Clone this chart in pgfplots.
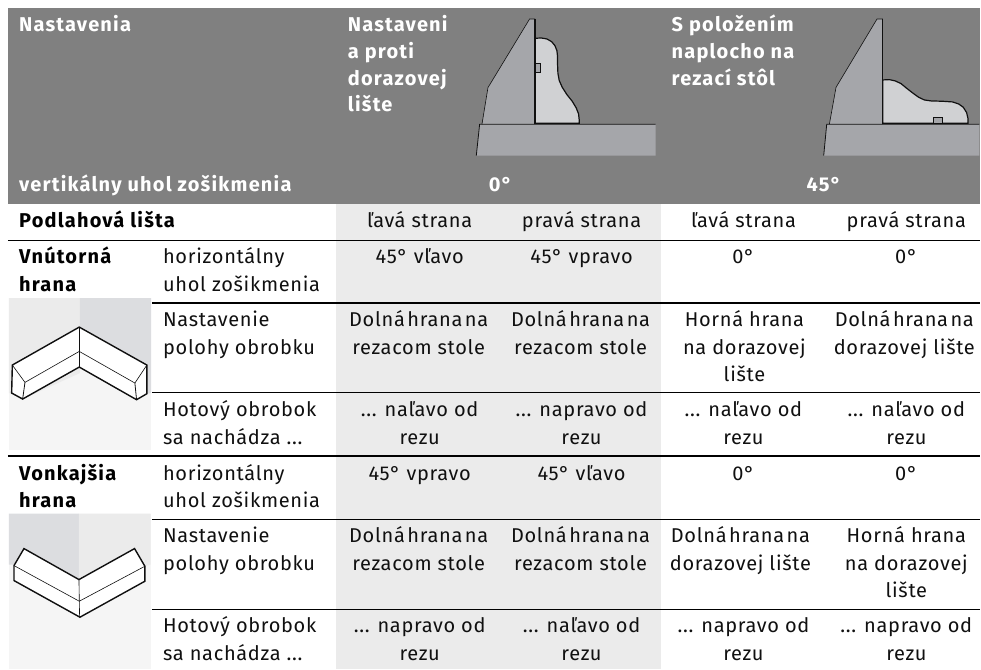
\documentclass[border=0pt]{standalone}
\usepackage{pgfplots}
\pgfplotsset{compat=1.18}
\usepackage{fontspec}
\setmainfont{Fira Sans}[LetterSpace=3.5,BoldFeatures={LetterSpace=6}]
\definecolor{hdr}{HTML}{808080}
\definecolor{col}{HTML}{EBEBEB}
\definecolor{steel}{HTML}{A5A6AA}
\definecolor{piece}{HTML}{D0D1D3}
\definecolor{wallL}{HTML}{EBEBEB}
\definecolor{wallD}{HTML}{DCDDE0}
\definecolor{floorc}{HTML}{F5F5F5}
\definecolor{ink}{HTML}{101010}
\newcommand\hdrfont{\fontsize{20}{22}\selectfont}
\newcommand\TL[3]{\node[anchor=base west,inner sep=0pt,text=ink,font=\hdrfont] at (axis cs:#1,#2) {#3};}
\newcommand\TC[3]{\node[anchor=base,inner sep=0pt,text=ink,font=\hdrfont] at (axis cs:#1,#2) {#3};}
\newcommand\HL[3]{\node[anchor=base west,inner sep=0pt,text=white,font=\hdrfont\bfseries] at (axis cs:#1,#2) {#3};}
\newcommand\BL[3]{\node[anchor=base west,inner sep=0pt,text=black,font=\hdrfont\bfseries] at (axis cs:#1,#2) {#3};}
\newcommand\Doln{Doln\'a\kern-3.5pt\ hrana\kern-3.5pt\ na}
\begin{document}
\begin{tikzpicture}
\begin{axis}[
  hide axis, scale only axis, width=981pt, height=670pt,
  xmin=0, xmax=981, ymin=0, ymax=670, y dir=reverse,
  clip=false, no marks,
  every axis plot/.append style={line join=miter},
]
% page background
\addplot[fill=white,draw=none] coordinates {(0,0)(981,0)(981,670)(0,670)} --cycle;
% header and shaded column
\addplot[fill=hdr,draw=none] coordinates {(8,8)(981,8)(981,204)(8,204)} --cycle;
\addplot[fill=col,draw=none] coordinates {(336,204)(661,204)(661,669)(336,669)} --cycle;
% rules
\addplot[black,line width=1.5pt] coordinates {(8,240.5)(981,240.5)};
\addplot[black,line width=1.5pt] coordinates {(152,303)(981,303)};
\addplot[black,line width=1.5pt] coordinates {(152,393)(981,393)};
\addplot[black,line width=1.5pt] coordinates {(8,456.5)(981,456.5)};
\addplot[black,line width=1.5pt] coordinates {(152,520)(981,520)};
\addplot[black,line width=1.5pt] coordinates {(152,610)(981,610)};
% left profile
\addplot[fill=steel,draw=none] table[x expr=\thisrowno{0}/3+470,y expr=\thisrowno{1}/3+10] {
30 343
558 343
558 437
20 437
};
\addplot[fill=steel,draw=none] table[x expr=\thisrowno{0}/3+470,y expr=\thisrowno{1}/3+10] {
37 343
55 233
180 27
196 27
196 343
};
\addplot[fill=piece,draw=ink,line width=1.2pt] table[x expr=\thisrowno{0}/3+470,y expr=\thisrowno{1}/3+10] {
196 85
215 84
232 87
246 95
256 107
262 122
264 140
264 165
265 190
269 212
278 232
292 254
308 274
320 294
327 312
329 330
329 340
196 340
} --cycle;
\addplot[fill=steel,draw=ink,line width=0.9pt] table[x expr=\thisrowno{0}/3+470,y expr=\thisrowno{1}/3+10] {
196 160
214 160
214 188
196 188
} --cycle;
\addplot[ink,line width=0.6pt] table[x expr=\thisrowno{0}/3+470,y expr=\thisrowno{1}/3+10] {
37 343
55 233
180 27
196 27
196 343
};
\addplot[ink,line width=1.2pt] table[x expr=\thisrowno{0}/3+470,y expr=\thisrowno{1}/3+10] {
196 27
196 343
};
\addplot[ink,line width=0.8pt] table[x expr=\thisrowno{0}/3+470,y expr=\thisrowno{1}/3+10] {
20 437
30 343
558 343
};
% right profile
\addplot[fill=steel,draw=none] table[x expr=\thisrowno{0}/3+810,y expr=\thisrowno{1}/3+10] {
52 343
510 343
510 437
43 437
};
\addplot[fill=steel,draw=none] table[x expr=\thisrowno{0}/3+810,y expr=\thisrowno{1}/3+10] {
60 343
80 232
203 27
220 27
220 343
};
\addplot[fill=piece,draw=ink,line width=1.2pt] table[x expr=\thisrowno{0}/3+810,y expr=\thisrowno{1}/3+10] {
220 210
240 209
258 213
275 221
292 235
310 249
328 262
345 270
365 273
400 274
430 276
448 282
462 292
472 308
476 325
476 340
220 340
} --cycle;
\addplot[fill=steel,draw=ink,line width=0.9pt] table[x expr=\thisrowno{0}/3+810,y expr=\thisrowno{1}/3+10] {
372 340
372 323
400 323
400 340
} --cycle;
\addplot[ink,line width=0.6pt] table[x expr=\thisrowno{0}/3+810,y expr=\thisrowno{1}/3+10] {
60 343
80 232
203 27
220 27
220 343
};
\addplot[ink,line width=1.2pt] table[x expr=\thisrowno{0}/3+810,y expr=\thisrowno{1}/3+10] {
220 27
220 343
};
\addplot[ink,line width=0.8pt] table[x expr=\thisrowno{0}/3+810,y expr=\thisrowno{1}/3+10] {
43 437
52 343
510 343
};
% inner corner inset
\addplot[fill=floorc,draw=none] table[x expr=\thisrowno{0}/3,y expr=\thisrowno{1}/3+240] {
27 175
454 175
454 632
27 632
} --cycle;
\addplot[fill=wallL,draw=none] table[x expr=\thisrowno{0}/3,y expr=\thisrowno{1}/3+240] {
27 175
240 175
240 400
68 478
35 460
27 460
} --cycle;
\addplot[fill=wallD,draw=none] table[x expr=\thisrowno{0}/3,y expr=\thisrowno{1}/3+240] {
240 175
454 175
454 460
441 462
410 480
240 380
} --cycle;
\addplot[fill=white,draw=none] table[x expr=\thisrowno{0}/3,y expr=\thisrowno{1}/3+240] {
238 262
441 376
441 462
410 480
238 382
68 478
35 460
37 376
} --cycle;
\addplot[ink,line width=1.4pt] table[x expr=\thisrowno{0}/3,y expr=\thisrowno{1}/3+240] {
238 262
441 376
441 462
410 480
238 382
68 478
35 460
37 376
} --cycle;
\addplot[ink,line width=0.6pt] table[x expr=\thisrowno{0}/3,y expr=\thisrowno{1}/3+240] {
37 376
75 428
238 335
405 430
441 376
};
\addplot[ink,line width=0.6pt] table[x expr=\thisrowno{0}/3,y expr=\thisrowno{1}/3+240] {
238 262
238 382
};
\addplot[ink,line width=0.8pt] table[x expr=\thisrowno{0}/3,y expr=\thisrowno{1}/3+240] {
75 428
68 478
};
\addplot[ink,line width=0.8pt] table[x expr=\thisrowno{0}/3,y expr=\thisrowno{1}/3+240] {
405 430
410 480
};
% outer corner inset
\addplot[fill=floorc,draw=none] table[x expr=\thisrowno{0}/3,y expr=\thisrowno{1}/3+450] {
27 192
452 192
452 658
27 658
} --cycle;
\addplot[fill=wallD,draw=none] table[x expr=\thisrowno{0}/3,y expr=\thisrowno{1}/3+450] {
27 192
237 192
237 455
42 345
27 345
} --cycle;
\addplot[fill=wallL,draw=none] table[x expr=\thisrowno{0}/3,y expr=\thisrowno{1}/3+450] {
237 192
452 192
452 345
435 350
237 455
} --cycle;
\addplot[fill=white,draw=none] table[x expr=\thisrowno{0}/3,y expr=\thisrowno{1}/3+450] {
72 297
237 390
404 297
435 350
435 395
240 503
42 393
42 348
} --cycle;
\addplot[ink,line width=1.4pt] table[x expr=\thisrowno{0}/3,y expr=\thisrowno{1}/3+450] {
72 297
237 390
404 297
435 350
435 395
240 503
42 393
42 348
} --cycle;
\addplot[ink,line width=0.6pt] table[x expr=\thisrowno{0}/3,y expr=\thisrowno{1}/3+450] {
42 348
238 455
435 350
};
\addplot[ink,line width=0.6pt] table[x expr=\thisrowno{0}/3,y expr=\thisrowno{1}/3+450] {
237 390
239 503
};
% header text
\HL{19}{32}{Nastavenia}
\HL{348}{32}{Nastaveni}
\HL{348}{59}{a proti}
\HL{348}{86}{dorazovej}
\HL{348}{112}{lište}
\HL{672}{32}{S položením}
\HL{672}{59}{naplocho na}
\HL{672}{86}{rezací stôl}
\HL{19}{192}{vertikálny uhol zošikmenia}
\HL{489}{192}{0°}
\HL{807}{192}{45°}
% first row
\BL{19}{228}{Podlahová lišta}
\TC{420}{228}{ľavá strana}
\TC{582}{228}{pravá strana}
\TC{744}{228}{ľavá strana}
\TC{907}{228}{pravá strana}
% inner corner
\BL{19}{264}{Vnútorná}
\BL{19}{292}{hrana}
\TL{163}{264}{horizontálny}
\TL{163}{292}{uhol zošikmenia}
\TL{163}{327}{Nastavenie}
\TL{163}{355}{polohy obrobku}
\TL{163}{417}{Hotový obrobok}
\TL{163}{445}{sa nachádza ...}
\TC{420}{264}{45° vľavo}
\TC{582}{264}{45° vpravo}
\TC{744}{264}{0°}
\TC{907}{264}{0°}
\TC{419}{327}{\Doln}
\TC{419}{355}{rezacom stole}
\TC{581}{327}{\Doln}
\TC{581}{355}{rezacom stole}
\TC{745}{327}{Horná hrana}
\TC{745}{355}{na dorazovej}
\TC{745}{382}{lište}
\TC{905}{327}{\Doln}
\TC{905}{355}{dorazovej lište}
\TC{420}{417}{... naľavo od}
\TC{420}{445}{rezu}
\TC{582}{417}{... napravo od}
\TC{582}{445}{rezu}
\TC{744}{417}{... naľavo od}
\TC{744}{445}{rezu}
\TC{907}{417}{... naľavo od}
\TC{907}{445}{rezu}
% outer corner
\BL{19}{481}{Vonkajšia}
\BL{19}{508}{hrana}
\TL{163}{481}{horizontálny}
\TL{163}{508}{uhol zošikmenia}
\TL{163}{543}{Nastavenie}
\TL{163}{571}{polohy obrobku}
\TL{163}{633}{Hotový obrobok}
\TL{163}{661}{sa nachádza ...}
\TC{420}{481}{45° vpravo}
\TC{582}{481}{45° vľavo}
\TC{744}{481}{0°}
\TC{907}{481}{0°}
\TC{419}{543}{\Doln}
\TC{419}{571}{rezacom stole}
\TC{581}{543}{\Doln}
\TC{581}{571}{rezacom stole}
\TC{741}{543}{\Doln}
\TC{741}{571}{dorazovej lište}
\TC{907}{543}{Horná hrana}
\TC{907}{571}{na dorazovej}
\TC{907}{598}{lište}
\TC{420}{633}{... napravo od}
\TC{420}{661}{rezu}
\TC{582}{633}{... naľavo od}
\TC{582}{661}{rezu}
\TC{744}{633}{... napravo od}
\TC{744}{661}{rezu}
\TC{907}{633}{... napravo od}
\TC{907}{661}{rezu}
\end{axis}
\end{tikzpicture}
\end{document}
